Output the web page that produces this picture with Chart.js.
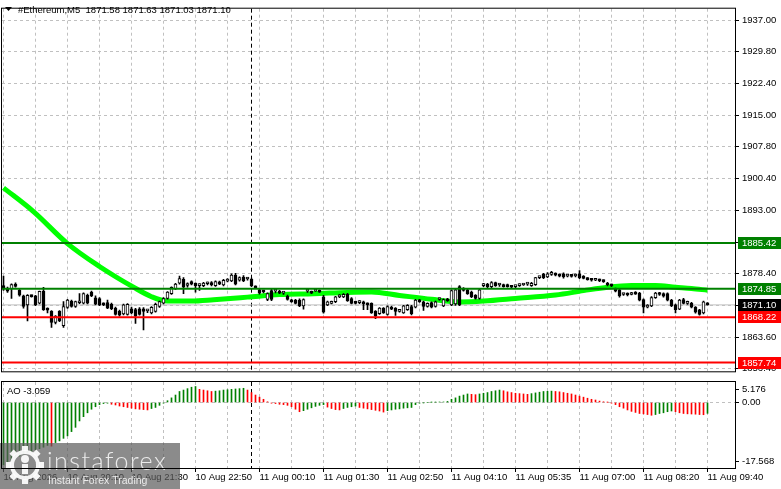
<!DOCTYPE html>
<html>
<head>
<meta charset="utf-8">
<script src="https://cdn.jsdelivr.net/npm/chart.js@4.4.1/dist/chart.umd.min.js"></script>
<style>
html,body{margin:0;padding:0;background:#fff;overflow:hidden;width:781px;height:489px;}
#wrap{position:relative;width:781px;height:489px;}
canvas{position:absolute;left:0;display:block;}
#mainChart{top:0;}
#aoChart{top:380px;}
</style>
</head>
<body>
<div id="wrap">
<canvas id="mainChart" width="781" height="380"></canvas>
<canvas id="aoChart" width="781" height="109"></canvas>
</div>
<script>
// ---------------- DATA ----------------
const SYMBOL = '#Ethereum,M5';
const LAST_OHLC = ['1871.58', '1871.63', '1871.03', '1871.10'];

const OPEN = [
1875.56,1874.82,1874.82,1875.90,1874.45,1873.18,1871.10,1873.30,1873.18,1871.48,
1874.22,1870.10,1869.62,1867.02,1869.62,1866.28,1870.51,1872.00,1870.74,1871.60,
1871.48,1873.33,1874.07,1872.74,1872.59,1871.48,1871.63,1871.26,1870.36,1869.62,
1869.03,1868.88,1870.22,1869.99,1870.22,1870.20,1869.70,1869.25,1869.62,1870.74,
1871.48,1872.59,1873.70,1874.82,1876.15,1877.04,1875.60,1876.51,1876.07,1875.55,
1875.55,1876.00,1876.29,1875.55,1876.44,1875.70,1876.60,1876.66,1878.00,1876.81,
1877.55,1877.10,1877.03,1875.30,1874.58,1874.30,1872.36,1874.44,1874.29,1874.30,
1873.84,1873.10,1872.21,1872.21,1872.21,1870.87,1874.29,1874.07,1874.29,1874.44,
1872.95,1871.10,1871.47,1871.84,1872.95,1872.95,1873.55,1872.58,1871.84,1871.62,
1871.84,1871.47,1871.47,1869.61,1869.09,1870.35,1868.87,1870.58,1870.35,1869.61,
1869.24,1869.98,1870.73,1870.58,1872.21,1871.84,1870.73,1871.62,1870.73,1872.36,
1870.87,1872.36,1871.10,1871.30,1875.33,1874.81,1874.58,1874.07,1873.32,1872.58,
1875.55,1875.92,1875.33,1876.29,1875.70,1875.70,1875.55,1875.33,1875.33,1875.55,
1875.70,1875.92,1875.55,1875.77,1877.40,1878.15,1877.55,1878.15,1878.30,1878.15,
1878.30,1877.78,1878.00,1877.80,1878.30,1877.78,1877.25,1877.00,1876.80,1877.00,
1876.80,1876.07,1875.70,1874.81,1874.58,1873.50,1873.70,1873.50,1873.84,1873.84,
1872.36,1870.58,1870.87,1872.80,1873.84,1873.70,1873.70,1872.21,1871.10,1870.13,
1872.36,1871.47,1871.47,1870.58,1869.98,1869.24,1871.58];
const HIGH = [
1877.78,1875.20,1876.00,1876.20,1874.80,1873.40,1873.50,1873.40,1873.30,1874.30,
1875.19,1870.40,1869.80,1868.60,1869.80,1871.85,1872.40,1872.20,1872.00,1873.70,
1873.90,1873.60,1874.30,1873.20,1872.80,1871.60,1872.20,1871.50,1870.60,1869.90,
1871.30,1871.40,1870.60,1870.30,1870.50,1870.50,1870.10,1870.70,1871.50,1872.00,
1872.80,1874.20,1875.30,1876.10,1877.78,1877.40,1876.20,1876.70,1876.20,1876.00,
1876.30,1876.40,1876.50,1876.70,1876.60,1877.00,1877.20,1878.30,1878.40,1877.60,
1877.90,1877.50,1877.30,1875.50,1874.80,1874.50,1873.90,1874.70,1874.60,1874.50,
1874.20,1873.40,1872.40,1872.40,1872.50,1872.50,1874.70,1874.30,1874.70,1874.60,
1873.30,1872.00,1872.00,1873.10,1873.50,1873.70,1873.80,1872.80,1872.00,1872.10,
1872.00,1871.60,1871.60,1869.80,1870.50,1870.50,1870.90,1870.80,1870.50,1870.10,
1871.00,1871.20,1871.00,1872.40,1872.40,1872.00,1871.60,1871.80,1872.00,1872.70,
1872.50,1872.60,1874.60,1874.80,1875.60,1875.10,1874.80,1874.30,1873.50,1874.80,
1876.10,1876.10,1876.50,1876.40,1876.00,1875.90,1875.90,1875.60,1875.60,1876.00,
1876.00,1876.20,1876.30,1877.50,1877.70,1878.40,1878.60,1878.90,1878.50,1878.30,
1878.50,1878.10,1878.20,1878.30,1879.04,1877.90,1877.40,1877.20,1877.20,1877.10,
1876.90,1876.30,1875.90,1875.00,1874.80,1873.80,1873.90,1874.00,1874.20,1874.00,
1872.50,1871.20,1873.00,1874.00,1874.00,1873.90,1873.90,1872.40,1871.30,1872.40,
1872.60,1872.00,1871.70,1870.70,1870.10,1872.00,1871.63];
const LOW = [
1874.45,1874.00,1872.60,1875.20,1873.10,1870.36,1867.40,1872.90,1870.90,1871.30,
1869.80,1869.25,1865.91,1866.70,1867.20,1865.91,1870.30,1870.60,1870.50,1871.40,
1871.30,1871.30,1873.00,1871.10,1870.90,1870.90,1870.20,1870.00,1868.70,1868.50,
1868.80,1868.70,1869.00,1866.80,1868.70,1865.30,1869.30,1869.00,1869.40,1870.50,
1871.30,1872.40,1873.50,1874.60,1875.90,1873.70,1875.20,1875.70,1874.07,1874.44,
1875.30,1875.70,1875.50,1875.40,1875.80,1875.50,1876.40,1876.50,1875.70,1876.60,
1876.50,1876.80,1875.30,1874.90,1873.60,1873.90,1872.10,1872.10,1873.90,1873.70,
1873.50,1872.20,1871.70,1871.30,1870.70,1870.13,1874.00,1873.70,1874.20,1874.00,
1869.20,1870.90,1871.30,1871.60,1872.80,1872.80,1871.90,1871.30,1871.30,1871.40,
1869.98,1869.98,1869.10,1867.91,1868.90,1869.10,1868.70,1870.00,1868.65,1869.40,
1869.10,1869.80,1868.80,1870.40,1871.70,1869.85,1870.60,1870.40,1870.60,1872.20,
1870.70,1871.90,1870.90,1871.00,1870.90,1874.30,1873.50,1872.80,1872.40,1872.40,
1875.30,1875.10,1875.10,1875.40,1875.40,1875.20,1875.20,1875.00,1875.10,1875.40,
1875.60,1875.60,1875.40,1875.60,1877.20,1877.20,1877.40,1877.90,1877.80,1877.60,
1877.30,1877.60,1877.50,1877.60,1877.20,1877.10,1876.80,1876.60,1876.70,1876.50,
1876.30,1875.50,1875.30,1874.10,1872.90,1873.30,1873.20,1873.40,1873.50,1872.00,
1869.24,1870.40,1870.70,1872.60,1873.30,1872.90,1872.00,1870.70,1869.24,1870.00,
1871.30,1871.20,1870.40,1869.20,1868.70,1869.00,1871.03];
const CLOSE = [
1874.82,1874.30,1875.78,1875.40,1873.33,1870.74,1873.30,1873.00,1871.11,1874.22,
1869.99,1869.90,1867.02,1868.51,1867.40,1870.74,1872.22,1870.74,1871.85,1871.85,
1873.70,1871.48,1873.18,1871.26,1871.11,1871.10,1870.36,1870.22,1868.88,1868.73,
1871.11,1871.26,1869.25,1868.51,1868.88,1869.62,1869.99,1870.51,1871.26,1871.85,
1872.59,1874.07,1875.19,1875.93,1877.20,1875.19,1875.90,1875.92,1875.55,1875.92,
1876.14,1876.29,1875.70,1876.51,1875.92,1876.81,1876.90,1878.00,1875.92,1877.40,
1876.66,1877.40,1875.55,1875.03,1873.84,1874.10,1873.70,1872.36,1874.44,1873.84,
1874.07,1872.36,1871.84,1871.47,1870.87,1872.36,1874.44,1873.84,1874.58,1874.07,
1869.39,1871.84,1871.84,1872.95,1873.32,1873.55,1872.06,1871.47,1871.47,1872.06,
1871.32,1871.10,1869.24,1868.50,1870.35,1869.24,1870.73,1870.13,1869.61,1869.98,
1870.87,1871.02,1869.09,1872.21,1871.84,1870.73,1871.47,1870.58,1871.84,1872.58,
1872.36,1872.06,1874.44,1874.58,1871.10,1874.44,1873.70,1872.95,1872.58,1874.58,
1875.92,1875.33,1876.29,1875.55,1875.92,1875.33,1875.33,1875.18,1875.55,1875.92,
1875.92,1876.07,1876.07,1877.40,1877.55,1877.40,1878.30,1878.50,1878.00,1877.78,
1877.55,1878.00,1877.70,1878.10,1877.40,1877.25,1876.95,1876.81,1877.00,1876.66,
1876.50,1875.70,1875.50,1874.29,1873.17,1873.70,1873.40,1873.84,1873.60,1872.21,
1870.58,1870.87,1872.80,1873.84,1873.50,1873.10,1872.21,1870.87,1869.98,1872.21,
1871.47,1871.84,1870.58,1869.39,1868.87,1871.84,1871.10];

const AO_NAME = 'AO';
const AO_LAST = -3.059;
const AO = [
-17.6,-17.1,-16.4,-15.7,-15.1,-14.5,-14.1,-13.8,-13.4,-13.0,
-12.6,-12.1,-12.3,-11.3,-10.8,-10.1,-9.4,-8.2,-7.0,-5.2,
-4.0,-2.9,-1.9,-1.2,-0.6,-0.3,-0.2,-0.5,-0.7,-1.0,
-1.2,-1.4,-1.6,-1.8,-1.9,-2.0,-2.1,-1.7,-1.4,-0.8,
-0.2,0.5,1.3,2.1,3.1,3.5,3.9,4.3,4.5,3.7,
3.5,3.3,3.1,3.2,3.3,3.5,3.6,3.7,3.8,3.9,
4.0,3.5,2.8,2.1,1.5,0.9,0.2,-0.2,-0.3,-0.5,
-0.6,-0.8,-1.2,-1.9,-2.6,-2.3,-1.9,-1.5,-1.1,-0.8,
-0.6,-1.3,-1.7,-2.0,-2.1,-1.7,-1.4,-1.2,-1.0,-1.4,
-1.6,-1.8,-2.0,-2.2,-2.4,-2.7,-2.3,-2.1,-1.9,-1.8,
-1.6,-1.5,-1.4,-0.6,-0.2,-0.1,0.0,0.05,0.1,0.12,
0.15,0.3,0.9,1.3,1.8,2.1,2.4,2.3,2.2,2.4,
2.6,2.8,3.1,3.3,3.5,3.3,3.0,2.8,2.6,2.5,
2.4,2.3,2.5,2.7,2.9,3.1,3.15,3.2,3.1,3.0,
2.8,2.6,2.4,2.1,1.8,1.5,1.2,0.9,0.7,0.4,
0.2,0.05,-0.2,-0.6,-1.2,-1.6,-2.1,-2.5,-2.8,-3.1,
-3.2,-3.4,-3.6,-3.4,-3.1,-2.9,-2.6,-2.4,-2.6,-2.9,
-3.1,-3.2,-3.25,-3.3,-3.4,-3.45,-3.059];

// Moving average, read at sample bars
const MA_X = [0,7.5,16,24,32.5,37,41,47,52.5,61,69,77.5,86,92,99,107,114,120,128,138,145,151,157,163,168,172,176];
const MA_Y = [1898.2,1892.7,1885.3,1880.0,1875.2,1873.0,1872.0,1872.0,1872.3,1872.9,1873.5,1873.7,1874.0,1874.1,1873.3,1872.4,1871.8,1872.0,1872.6,1873.4,1874.4,1875.2,1875.6,1875.6,1875.2,1874.9,1874.5];

const LEVELS = [1885.42, 1874.85, 1868.22, 1857.74];
const BID = 1871.10;

const Y_TICKS = [1937.00,1929.80,1922.40,1915.00,1907.80,1900.40,1893.00,1885.60,1878.40,1871.00,1863.60,1856.40];
const AO_TICKS = [5.176, 0, -17.568];

const X_TICK_INDEX = [0,16,32,48,64,80,96,112,128,144,160,176];
const X_TICK_LABELS = ['10 Aug 2026','10 Aug 20:10','10 Aug 21:30','10 Aug 22:50','11 Aug 00:10','11 Aug 01:30',
  '11 Aug 02:50','11 Aug 04:10','11 Aug 05:35','11 Aug 07:00','11 Aug 08:20','11 Aug 09:40'];
const SEPARATOR_INDEX = 62;

// ---------------- STYLE / LAYOUT ----------------
const FONT = "'Liberation Sans', Arial, sans-serif";
const FS = 9.5;
const LEVEL_COLORS = ['#008000', '#008000', '#ff0000', '#ff0000'];
const GRID = '#c0c0c0';
const X_MIN = -0.375, X_MAX = 182.875;
const Y_MIN = 1855.73, Y_MAX = 1939.67;
const AO_MIN = -18.45, AO_MAX = 5.77;
const GRID_X = [];
for (let v = 0; v <= 176; v += 8) GRID_X.push(v);

const AO_COLORS = [];
AO.forEach((v, i) => {
  let c = i === 0 ? '#008000' : AO_COLORS[i - 1];
  if (i > 0) { if (v > AO[i - 1]) c = '#008000'; else if (v < AO[i - 1]) c = '#ff0000'; }
  AO_COLORS.push(c);
});

const framePlugin = {
  id: 'frame',
  afterDraw(chart) {
    const { ctx, chartArea: a } = chart;
    ctx.save();
    ctx.strokeStyle = '#000'; ctx.lineWidth = 1;
    ctx.strokeRect(a.left - 0.5, a.top - 0.5, a.right - a.left + 1, a.bottom - a.top + 1);
    ctx.restore();
  }
};
const separatorPlugin = {
  id: 'separator',
  beforeDatasetsDraw(chart) {
    const { ctx, chartArea: a } = chart;
    const x = Math.floor(chart.scales.x.getPixelForValue(SEPARATOR_INDEX)) + 0.5;
    ctx.save();
    ctx.strokeStyle = '#000'; ctx.lineWidth = 1; ctx.setLineDash([4, 3]);
    ctx.beginPath(); ctx.moveTo(x, a.top); ctx.lineTo(x, a.bottom); ctx.stroke();
    ctx.restore();
  }
};
const mainDecor = {
  id: 'mainDecor',
  afterDraw(chart) {
    const { ctx } = chart;
    const ys = chart.scales.y;
    ctx.save();
    // header
    ctx.fillStyle = '#000';
    ctx.beginPath(); ctx.moveTo(5, 7); ctx.lineTo(12, 7); ctx.lineTo(8.5, 11); ctx.closePath(); ctx.fill();
    ctx.font = FS + 'px ' + FONT; ctx.textBaseline = 'middle'; ctx.textAlign = 'left';
    ctx.fillText(SYMBOL + '  ' + LAST_OHLC.join(' '), 18, 10);
    // price boxes
    const boxes = LEVELS.map((L, k) => ({ v: L, c: LEVEL_COLORS[k] }));
    boxes.push({ v: BID, c: '#000' });
    boxes.forEach(b => {
      const y = Math.round(ys.getPixelForValue(b.v));
      ctx.fillStyle = b.c;
      ctx.fillRect(738, y - 6, 43, 12);
      ctx.fillStyle = '#fff';
      ctx.fillText(b.v.toFixed(2), 742, y + 0.5);
    });
    ctx.restore();
  }
};
const aoDecor = {
  id: 'aoDecor',
  afterDraw(chart) {
    const { ctx, chartArea: a } = chart;
    const ys = chart.scales.y;
    ctx.save();
    ctx.font = FS + 'px ' + FONT; ctx.textBaseline = 'middle'; ctx.textAlign = 'left'; ctx.fillStyle = '#000';
    ctx.fillText(AO_NAME + ' ' + AO_LAST.toFixed(3), 7, 11);
    AO_TICKS.forEach(v => {
      let y = ys.getPixelForValue(v);
      y = Math.min(Math.max(y, a.top + 7), a.bottom - 7);
      y = Math.round(y);
      ctx.fillRect(a.right, y, 4, 1);
      ctx.fillText(v === 0 ? '0.00' : v.toFixed(3), 742, y + 0.5);
    });
    // watermark
    ctx.fillStyle = 'rgba(90,90,90,0.7)';
    ctx.fillRect(0, 63, 180, 46);
    ctx.strokeStyle = 'rgba(255,255,255,0.92)'; ctx.fillStyle = 'rgba(255,255,255,0.92)';
    ctx.lineWidth = 4;
    ctx.beginPath(); ctx.arc(25, 85, 13, 0, Math.PI * 2); ctx.stroke();
    for (let k = 0; k < 8; k++) {
      const ang = k * Math.PI / 4;
      ctx.save(); ctx.translate(25, 85); ctx.rotate(ang); ctx.fillRect(-3, -19, 6, 5); ctx.restore();
    }
    ctx.beginPath(); ctx.arc(25, 79, 4, 0, Math.PI * 2); ctx.fill();
    ctx.fillRect(22, 84, 6, 10);
    ctx.fillStyle = 'rgba(240,240,240,0.95)';
    ctx.font = '300 25px Lato, ' + FONT;
    ctx.textBaseline = 'alphabetic';
    try { ctx.letterSpacing = '1.5px'; } catch (e) {}
    ctx.fillText('instaforex', 47, 90, 126);
    try { ctx.letterSpacing = '0px'; } catch (e) {}
    ctx.font = '10.5px ' + FONT;
    ctx.fillText('Instant Forex Trading', 48, 104, 100);
    ctx.restore();
  }
};

new Chart(document.getElementById('mainChart'), {
  type: 'bar',
  data: {
    datasets: [
      ...LEVELS.map((L, k) => ({
        type: 'line', data: [{ x: X_MIN, y: L }, { x: X_MAX, y: L }],
        borderColor: LEVEL_COLORS[k], borderWidth: 2, pointRadius: 0, order: 0
      })),
      {
        type: 'bar', data: OPEN.map((o, i) => ({ x: i, y: [o, CLOSE[i]] })),
        backgroundColor: OPEN.map((o, i) => CLOSE[i] >= o ? '#ffffff' : '#000000'),
        borderColor: '#000', borderWidth: 1, borderSkipped: false,
        barThickness: 3, minBarLength: 2, grouped: false, order: 1
      },
      {
        type: 'bar', data: LOW.map((l, i) => ({ x: i, y: [l, HIGH[i]] })),
        backgroundColor: '#000', borderWidth: 0, barThickness: 1, minBarLength: 1, grouped: false, order: 2
      },
      {
        type: 'line', data: MA_X.map((x, k) => ({ x: x, y: MA_Y[k] })),
        borderColor: '#00ff00', borderWidth: 5, pointRadius: 0, cubicInterpolationMode: 'monotone', order: 3
      },
      {
        type: 'line', data: [{ x: X_MIN, y: BID }, { x: X_MAX, y: BID }],
        borderColor: GRID, borderWidth: 1, pointRadius: 0, order: 4
      }
    ]
  },
  options: {
    responsive: false, animation: false, events: [],
    layout: { padding: { left: 2, top: 2, right: 0, bottom: 1 } },
    plugins: { legend: { display: false }, tooltip: { enabled: false } },
    scales: {
      x: {
        type: 'linear', min: X_MIN, max: X_MAX, offset: false,
        afterFit(s) { s.height = 0; },
        afterBuildTicks(s) { s.ticks = GRID_X.map(v => ({ value: v })); },
        ticks: { display: false },
        grid: { color: GRID, drawTicks: false, offset: false },
        border: { display: false, dash: [3, 3] }
      },
      y: {
        type: 'linear', position: 'right', min: Y_MIN, max: Y_MAX,
        afterFit(s) { s.width = 46; },
        afterBuildTicks(s) { s.ticks = Y_TICKS.map(v => ({ value: v })); },
        ticks: { callback: v => Number(v).toFixed(2), color: '#000', font: { family: FONT, size: FS }, padding: 3, autoSkip: false },
        grid: { color: GRID, tickLength: 4, tickColor: '#000' },
        border: { display: false, dash: [3, 3] }
      }
    }
  },
  plugins: [separatorPlugin, mainDecor, framePlugin]
});

new Chart(document.getElementById('aoChart'), {
  type: 'bar',
  data: {
    datasets: [{
      data: AO.map((v, i) => ({ x: i, y: v })),
      backgroundColor: AO_COLORS, borderWidth: 0, barThickness: 1, grouped: false
    }]
  },
  options: {
    responsive: false, animation: false, events: [],
    layout: { padding: { left: 2, top: 2, right: 0, bottom: 0 } },
    plugins: { legend: { display: false }, tooltip: { enabled: false } },
    scales: {
      x: {
        type: 'linear', min: X_MIN, max: X_MAX, offset: false,
        afterFit(s) { s.height = 21; },
        afterBuildTicks(s) { s.ticks = GRID_X.map(v => ({ value: v })); },
        ticks: {
          autoSkip: false, maxRotation: 0, align: 'start', padding: 0, color: '#000',
          font: { family: FONT, size: FS },
          callback: v => { const k = X_TICK_INDEX.indexOf(v); return k >= 0 ? X_TICK_LABELS[k] : ''; }
        },
        grid: {
          color: GRID, offset: false, tickLength: 4,
          tickColor: c => (c.tick && X_TICK_INDEX.includes(c.tick.value)) ? '#000' : 'rgba(0,0,0,0)'
        },
        border: { display: false, dash: [3, 3] }
      },
      y: {
        type: 'linear', position: 'right', min: AO_MIN, max: AO_MAX,
        afterFit(s) { s.width = 46; },
        afterBuildTicks(s) { s.ticks = [{ value: 0 }]; },
        ticks: { display: false },
        grid: { color: GRID, drawTicks: false },
        border: { display: false, dash: [3, 3] }
      }
    }
  },
  plugins: [separatorPlugin, aoDecor, framePlugin]
});
</script>
</body>
</html>
